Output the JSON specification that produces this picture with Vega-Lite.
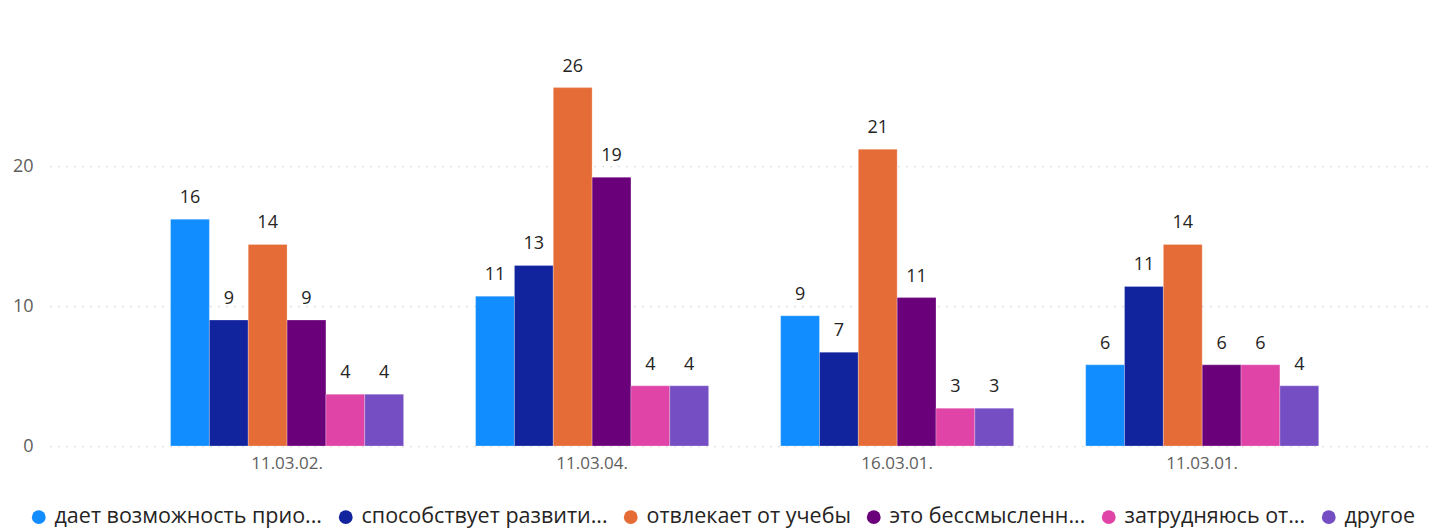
{
  "$schema": "https://vega.github.io/schema/vega-lite/v6.json",
  "width": 1380,
  "height": 399,
  "autosize": {"type": "none"},
  "padding": {"left": 50, "top": 47, "right": 8, "bottom": 84},
  "config": {
    "font": "Open Sans",
    "view": {"stroke": null},
    "axis": {"labelFont": "Open Sans", "labelColor": "#605E5C"}
  },
  "data": {
    "values": [
      {"group": "11.03.02.", "series": "дает возможность прио...", "value": 16.2},
      {"group": "11.03.02.", "series": "способствует развити...", "value": 9.0},
      {"group": "11.03.02.", "series": "отвлекает от учебы", "value": 14.4},
      {"group": "11.03.02.", "series": "это бессмысленн...", "value": 9.0},
      {"group": "11.03.02.", "series": "затрудняюсь от...", "value": 3.7},
      {"group": "11.03.02.", "series": "другое", "value": 3.7},
      {"group": "11.03.04.", "series": "дает возможность прио...", "value": 10.7},
      {"group": "11.03.04.", "series": "способствует развити...", "value": 12.9},
      {"group": "11.03.04.", "series": "отвлекает от учебы", "value": 25.6},
      {"group": "11.03.04.", "series": "это бессмысленн...", "value": 19.2},
      {"group": "11.03.04.", "series": "затрудняюсь от...", "value": 4.3},
      {"group": "11.03.04.", "series": "другое", "value": 4.3},
      {"group": "16.03.01.", "series": "дает возможность прио...", "value": 9.3},
      {"group": "16.03.01.", "series": "способствует развити...", "value": 6.7},
      {"group": "16.03.01.", "series": "отвлекает от учебы", "value": 21.2},
      {"group": "16.03.01.", "series": "это бессмысленн...", "value": 10.6},
      {"group": "16.03.01.", "series": "затрудняюсь от...", "value": 2.7},
      {"group": "16.03.01.", "series": "другое", "value": 2.7},
      {"group": "11.03.01.", "series": "дает возможность прио...", "value": 5.8},
      {"group": "11.03.01.", "series": "способствует развити...", "value": 11.4},
      {"group": "11.03.01.", "series": "отвлекает от учебы", "value": 14.4},
      {"group": "11.03.01.", "series": "это бессмысленн...", "value": 5.8},
      {"group": "11.03.01.", "series": "затрудняюсь от...", "value": 5.8},
      {"group": "11.03.01.", "series": "другое", "value": 4.3}
    ]
  },
  "encoding": {
    "x": {
      "field": "group",
      "type": "nominal",
      "sort": ["11.03.02.", "11.03.04.", "16.03.01.", "11.03.01."],
      "scale": {"paddingInner": 0.236, "paddingOuter": 0.38, "align": 0.52},
      "axis": {
        "title": null,
        "labelAngle": 0,
        "domain": false,
        "ticks": false,
        "labelFontSize": 17,
        "labelPadding": 9,
        "labelColor": "#605E5C"
      }
    },
    "xOffset": {
      "field": "series",
      "type": "nominal",
      "sort": ["дает возможность прио...", "способствует развити...", "отвлекает от учебы", "это бессмысленн...", "затрудняюсь от...", "другое"],
      "scale": {"paddingInner": 0, "paddingOuter": 0}
    },
    "y": {
      "field": "value",
      "type": "quantitative",
      "scale": {"domain": [0, 28.5], "nice": false},
      "axis": {
        "title": null,
        "values": [0, 10, 20],
        "domain": false,
        "ticks": false,
        "labelPadding": 17,
        "labelFontSize": 18,
        "labelColor": "#605E5C",
        "gridDash": [1, 7],
        "gridColor": "#C8C6C4",
        "gridWidth": 1.5
      }
    }
  },
  "layer": [
    {
      "mark": {"type": "bar", "stroke": "white", "strokeOpacity": 0.25, "strokeWidth": 1},
      "encoding": {
        "color": {
          "field": "series",
          "type": "nominal",
          "sort": ["дает возможность прио...", "способствует развити...", "отвлекает от учебы", "это бессмысленн...", "затрудняюсь от...", "другое"],
          "scale": {
            "domain": ["дает возможность прио...", "способствует развити...", "отвлекает от учебы", "это бессмысленн...", "затрудняюсь от...", "другое"],
            "range": ["#118DFF", "#12239E", "#E66C37", "#6B007B", "#E044A7", "#744EC2"]
          },
          "legend": {
            "title": null,
            "orient": "none",
            "direction": "horizontal",
            "columns": 6,
            "legendX": -22,
            "legendY": 459,
            "symbolType": "circle",
            "symbolSize": 190,
            "symbolStrokeWidth": 0,
            "labelFontSize": 21.5,
            "labelColor": "#252423",
            "labelLimit": 400,
            "labelOffset": 5,
            "columnPadding": 12
          }
        }
      }
    },
    {
      "mark": {"type": "text", "baseline": "bottom", "dy": -12, "fontSize": 18, "color": "#252423"},
      "encoding": {
        "text": {"field": "value", "type": "quantitative", "format": ".0f"}
      }
    }
  ]
}
